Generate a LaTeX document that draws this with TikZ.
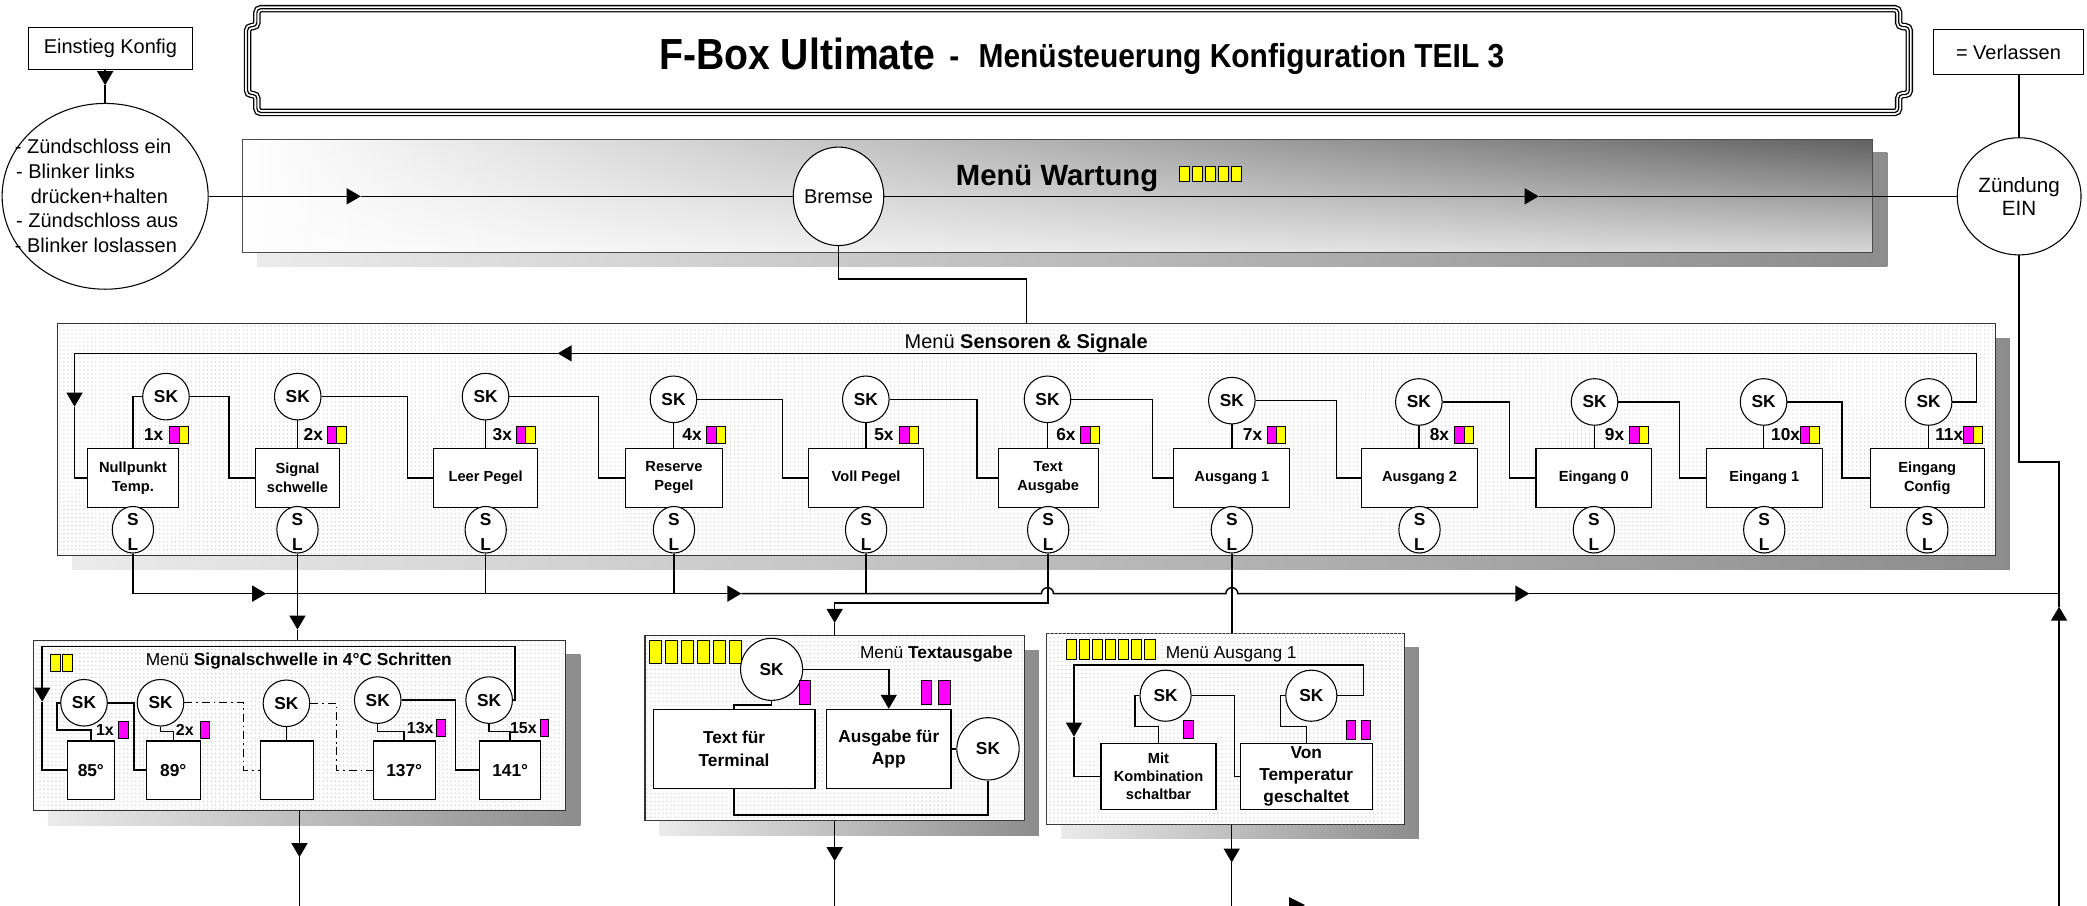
\documentclass[tikz,border=0pt]{standalone}
\usepackage{fontspec}
\setmainfont{Liberation Sans}
\newfontfamily\narrowf[FakeStretch=0.9]{Liberation Sans}
\usetikzlibrary{arrows.meta,shapes.geometric,patterns,fadings}
\newcommand\fsz[2]{\fontsize{#1}{#2}\selectfont}
\definecolor{mag}{RGB}{255,0,255}
\definecolor{yel}{RGB}{255,255,0}
\newcommand\sqr[5]{\filldraw[fill=#5,draw=black,line width=0.5pt] (#1,#2) rectangle ++(#3,#4);}
\begin{document}
\begin{tikzpicture}[x=1pt,y=-1pt,
  conn/.style={line width=1.1pt},
  arr/.style={-{Triangle[length=10.5pt,width=12pt]}},
  dashdot/.style={line width=0.9pt, dash pattern=on 6pt off 3pt on 1.2pt off 3pt},
  skc/.style={circle, draw, fill=white, line width=0.8pt, inner sep=0, minimum size=35pt, font=\bfseries\fsz{13}{15}},
  slc/.style={ellipse, draw, fill=white, line width=0.8pt, inner sep=0, minimum width=31pt, minimum height=35pt},
  slt/.style={inner sep=0, font=\bfseries\fsz{13}{15}},
  rowbox/.style={draw, fill=white, line width=0.8pt, inner sep=0, minimum height=44pt, align=center, font=\bfseries\fsz{11}{14.3}},
  valbox/.style={draw, fill=white, line width=0.8pt, inner sep=0, align=center, font=\bfseries\fsz{13}{16.8}},
  lab/.style={inner sep=0, anchor=west, font=\bfseries\fsz{13}{15}},
  plab/.style={inner sep=0, anchor=west, font=\bfseries\fsz{12}{14}},
  panel/.style={draw=black!80, line width=0.8pt, fill=white, postaction={pattern=dots, pattern color=black!20}, inner sep=0},
  shadowc/.style={left color=black!8, right color=black!45},
  plain/.style={inner sep=0},
]
\useasboundingbox (0,0) rectangle (1568,680);
\fill[white] (0,0) rectangle (1568,680);

% ---------- title frame ----------
\fill[white, rounded corners=3pt] (193,6.5) -- (1426.5,6.5) -- (1426.5,20) -- (1434.5,20) -- (1434.5,71) -- (1426.5,71) -- (1426.5,84.5) -- (193,84.5) -- (193,71) -- (186,71) -- (186,20) -- (193,20) -- cycle;
\foreach \w/\c in {5.6/black, 3.6/white, 0.9/black}
  \draw[line width=\w pt, \c, rounded corners=3pt] (193,6.5) -- (1426.5,6.5) -- (1426.5,20) -- (1434.5,20) -- (1434.5,71) -- (1426.5,71) -- (1426.5,84.5) -- (193,84.5) -- (193,71) -- (186,71) -- (186,20) -- (193,20) -- cycle;
\node[anchor=base west, inner sep=0, font=\narrowf\bfseries\fsz{32.7}{36}] (tt1) at (495,52) {F-Box Ultimate};
\node[anchor=base west, inner sep=0, font=\narrowf\bfseries\fsz{25}{29}] (tt2) at (713,51) {-};
\node[anchor=base west, inner sep=0, font=\narrowf\bfseries\fsz{25}{29}] (tt3) at (735,51) {Menüsteuerung Konfiguration TEIL 3};

% ---------- top left ----------
\node[draw, fill=white, line width=0.8pt, minimum width=123.5pt, minimum height=32pt, inner sep=0, font=\fsz{15}{18}] (einstieg) at (83,36.5) {Einstieg Konfig};
\node[ellipse, draw, fill=white, line width=0.8pt, minimum width=154.8pt, minimum height=139.6pt, inner sep=0] (start) at (79,147.5) {};
\node[anchor=base west, plain, font=\fsz{15}{18}] (st1) at (11,115.7) {- Zündschloss ein};
\node[anchor=base west, plain, font=\fsz{15}{18}] (st2) at (12,134.2) {- Blinker links};
\node[anchor=base west, plain, font=\fsz{15}{18}] (st3) at (23,152.7) {drücken+halten};
\node[anchor=base west, plain, font=\fsz{15}{18}] (st4) at (12,171.2) {- Zündschloss aus};
\node[anchor=base west, plain, font=\fsz{15}{18}] (st5) at (11,189.7) {- Blinker loslassen};
\coordinate (ea) at (79,64);
\draw[conn,arr] (einstieg.south -| ea) -- (ea);
\draw[conn] (ea) -- (start.north);

% ---------- top right ----------
\node[draw, fill=white, line width=0.8pt, minimum width=112pt, minimum height=34pt, inner sep=0, font=\fsz{15}{18}] (verl) at (1509,39) {= Verlassen};

% ---------- Menue Wartung ----------
\shade[shadowc] (193,114.5) rectangle (1418,200);
\shade[left color=white, right color=black!15] (182,104.5) rectangle (1407,190);
\shade[left color=white, right color=black!62, path fading=south] (182,104.5) rectangle (1407,190);
\node[draw=black!70, line width=0.8pt, minimum width=1225pt, minimum height=85.5pt, inner sep=0] (wart) at (794.5,147.25) {};
\node[anchor=base west, plain, font=\bfseries\fsz{22}{26}] (warttitle) at (718,139) {Menü Wartung};
\foreach \k in {0,...,4} { \sqr{885.8+\k*9.85}{125.2}{7.6}{11.3}{yel} }

\node[ellipse, draw, fill=white, line width=0.8pt, minimum width=68pt, minimum height=74pt, inner sep=0] (bremse) at (630,147.5) {};
\node[plain, font=\fsz{15}{18}] (bremset) at (630,147.5) {Bremse};
\node[ellipse, draw, fill=white, line width=0.8pt, minimum width=93pt, minimum height=88pt, inner sep=0, align=center, font=\fsz{15.5}{17.5}] (zund) at (1517,147.5) {Zündung\\EIN};

\coordinate (wa1) at (271,147.5);
\coordinate (wa2) at (1156,147.5);
\draw[conn,arr] (start.east) -- (wa1);
\draw[conn] (wa1) -- (bremse.west);
\draw[conn,arr] (bremse.east) -- (wa2);
\draw[conn] (wa2) -- (zund.west);
\draw[conn] (verl.south -| zund.north) -- (zund.north);

% ---------- Menue Sensoren & Signale ----------
\shade[shadowc] (54.4,254) rectangle (1510,428);
\node[panel, minimum width=1455.6pt, minimum height=174pt] (sens) at (771.2,330) {};
\node[plain, font=\fsz{15}{18}] (senstitle) at (771,258) {Menü \textbf{Sensoren \& Signale}};
\draw[conn] (bremse.south) -- (630,209.5) -| (sens.north);

\foreach \i/\sx/\sy/\bl/\br/\txt in {
  1/124.7/298/65.7/134/{Nullpunkt\\Temp.},
  2/223.7/298/192/255/{Signal\\schwelle},
  3/364.8/298/326/403.8/{Leer Pegel},
  4/506/300/469.7/543/{Reserve\\Pegel},
  5/650.5/300/607.6/693.8/{Voll Pegel},
  6/787/300/750/825/{Text\\Ausgabe},
  7/925.5/301/882/969/{Ausgang 1},
  8/1066/302/1023/1110/{Ausgang 2},
  9/1198/302/1154/1241/{Eingang 0},
  10/1325/302/1282/1369/{Eingang 1},
  11/1449/302/1405/1491/{Eingang\\Config}}
{
  \pgfmathsetmacro\bc{(\bl+\br)/2}
  \pgfmathsetmacro\bw{\br-\bl}
  \node[rowbox, minimum width=\bw pt] (bx\i) at (\bc,359) {\txt};
  \node[skc] (sk\i) at (\sx,\sy) {SK};
  \node[slc] (sl\i) at (\bc,398) {};
  \node[slt] (sls\i) at (\bc,390.5) {S};
  \node[slt] (sll\i) at (\bc,409) {L};
}
\draw[conn] (sk1.west) -| (bx1.north);
\foreach \i in {2,...,11} \draw[conn] (sk\i.south) -- (sk\i.south |- bx\i.north);
\foreach \i/\j/\lx in {1/2/172, 2/3/306.3, 3/4/449.5, 4/5/588, 5/6/734, 6/7/866, 7/8/1004, 8/9/1134, 9/10/1262, 10/11/1384}
  \draw[conn] (sk\i.east) -| (\lx,359) -- (bx\j.west);
\foreach \lt/\lx/\qx in {1x/108/127.5, 2x/228/246, 3x/370/388, 4x/512.5/531, 5x/656.7/676, 6x/793.4/811.9, 7x/933.6/952, 8x/1074/1092.8, 9x/1205.6/1224.5, 10x/1330.5/1352.7, 11x/1453.8/1475.3}
{
  \node[lab] (lab\lt) at (\lx,326.5) {\lt};
  \sqr{\qx}{320}{7}{13}{mag}
  \sqr{\qx+7}{320}{7}{13}{yel}
}
\coordinate (lp1) at (419,265.5);
\coordinate (lp2) at (56,305.5);
\draw[conn,arr] (sk11.east) -| (1485,265.5) -- (lp1);
\draw[conn,arr] (lp1) -| (lp2);
\draw[conn] (lp2) |- (bx1.west);

% ---------- bottom panels ----------
\shade[shadowc] (36,492) rectangle (436,620);
\node[panel, minimum width=400pt, minimum height=128pt] (pan1) at (225,545) {};
\shade[shadowc] (495.6,488.6) rectangle (780.6,627.6);
\node[panel, minimum width=285pt, minimum height=139pt] (pan2) at (627.1,547.1) {};
\shade[shadowc] (797.4,486.8) rectangle (1066,630.3);
\node[panel, minimum width=268.6pt, minimum height=143.5pt] (pan3) at (920.7,547.55) {};

% ---------- bus ----------
\coordinate (ba1) at (200,446);
\coordinate (ba2) at (557,446);
\coordinate (ba3) at (1149,446);
\coordinate (busend) at (1547,446);
\draw[conn,arr] (sl1.south) |- (ba1);
\draw[conn,arr] (ba1) -- (ba2);
\draw[conn,arr] (ba2) -- (782.5,446) arc[start angle=180, end angle=360, radius=4.5] -- (921,446) arc[start angle=180, end angle=360, radius=4.5] -- (ba3);
\draw[conn] (ba3) -- (busend);
\foreach \i in {3,4,5} \draw[conn] (sl\i.south) -- (sl\i.south |- ba1);
\coordinate (p1a) at (223.5,473);
\draw[conn,arr] (sl2.south) -- (p1a);
\draw[conn] (p1a) -- (p1a |- pan1.north);
\coordinate (p2a) at (627.1,468);
\draw[conn,arr] (sl6.south) |- (627.1,453) -- (p2a);
\draw[conn] (p2a) -- (pan2.north);
\draw[conn] (sl7.south) -- (sl7.south |- pan3.north);

% return line to Zuendung
\coordinate (zr1) at (1547,455.8);
\coordinate (zbot) at (1547,681);
\draw[conn,arr] (zbot) -- (zr1);
\draw[conn] (zr1) -- (1547,347) -| (zund.south);

% bottom exits
\coordinate (b1) at (225,644);
\coordinate (e1) at (225,681);
\draw[conn,arr] (pan1.south) -- (b1);
\draw[conn] (b1) -- (e1);
\coordinate (b2) at (627.1,647);
\coordinate (e2) at (627.1,681);
\draw[conn,arr] (pan2.south) -- (b2);
\draw[conn] (b2) -- (e2);
\coordinate (b3) at (925.4,648);
\coordinate (e3) at (925.4,681);
\draw[conn,arr] (pan3.south -| b3) -- (b3);
\draw[conn] (b3) -- (e3);
\fill (968.5,674) -- (980.5,680) -- (968.5,686) -- cycle;

% ---------- panel 1: Signalschwelle ----------
\sqr{38}{491.4}{7}{13.2}{yel}
\sqr{47}{491.4}{7}{13.2}{yel}
\node[plain, font=\fsz{13}{15}] (p1title) at (224.5,497) {Menü \textbf{Signalschwelle in 4°C Schritten}};
\node[skc] (pk1) at (63.1,528) {SK};
\node[skc] (pk2) at (120.6,528) {SK};
\node[skc] (pk3) at (215.2,528.4) {SK};
\node[skc] (pk4) at (283.8,526) {SK};
\node[skc] (pk5) at (367.5,526) {SK};
\node[valbox, minimum width=35.3pt, minimum height=43.8pt] (pb1) at (68.25,578.6) {85°};
\node[valbox, minimum width=40.4pt, minimum height=43.8pt] (pb2) at (130.2,578.6) {89°};
\node[valbox, minimum width=39.8pt, minimum height=43.8pt] (pb3) at (215.6,578.6) {};
\node[valbox, minimum width=46.4pt, minimum height=43.8pt] (pb4) at (303.7,578.6) {137°};
\node[valbox, minimum width=45.6pt, minimum height=43.8pt] (pb5) at (383.3,578.6) {141°};
\draw[conn] (pk1.west) -| (42.8,548.4) -| (pb1.north);
\draw[conn] (pk1.east) -| (100.6,578.6) -- (pb2.west);
\draw[conn] (pk2.south) -- (120.6,549.4) -| (pb2.north);
\draw[dashdot] (pk2.east) -| (183.2,578.6) -- (pb3.west);
\draw[conn] (pk3.south) -- (pk3.south |- pb3.north);
\draw[dashdot] (pk3.east) -| (252.7,578.6) -- (pb4.west);
\draw[conn] (pk4.south) -- (283.8,549.4) -| (pb4.north);
\draw[conn] (pk4.east) -| (342.4,578.6) -- (pb5.west);
\draw[conn] (pk5.south) -- (367.5,549.4) -| (pb5.north);
\coordinate (p1l) at (31.7,527.2);
\draw[conn,arr] (pk5.east) -- (386.9,526) -- (386.9,485.8) -| (p1l);
\draw[conn] (p1l) |- (pb1.west);
\node[plab] (pl1) at (72,548.4) {1x};
\sqr{88.7}{542.2}{8}{12.5}{mag}
\node[plab] (pl2) at (132,548.4) {2x};
\sqr{150.4}{542.2}{7.2}{12.5}{mag}
\node[plab] (pl3) at (305.5,546.8) {13x};
\sqr{328}{540.6}{6.5}{12.5}{mag}
\node[plab] (pl4) at (383,546.8) {15x};
\sqr{405.6}{540.6}{6.5}{12.5}{mag}

% ---------- panel 2: Textausgabe ----------
\foreach \k in {0,...,5} { \sqr{487.8+\k*12.1}{480.8}{8.8}{17.6}{yel} }
\node[plain, font=\fsz{13}{15}] (p2title) at (703.5,491.3) {Menü \textbf{Textausgabe}};
\node[skc, minimum size=46.6pt] (skt) at (579.7,502.9) {SK};
\node[valbox, minimum width=121.5pt, minimum height=59.4pt] (bt) at (551.55,562.6) {Text für\\Terminal};
\node[valbox, minimum width=93.5pt, minimum height=59.4pt] (bap) at (667.75,562.6) {Ausgabe für\\App};
\node[skc, minimum size=46.8pt] (skr) at (742.3,562.6) {SK};
\sqr{600.5}{511}{8.5}{18}{mag}
\sqr{691.9}{511}{8}{18}{mag}
\sqr{704.9}{511}{8.8}{18}{mag}
\draw[conn] (skt.south) -- (579.7,529.6) -| (bt.north);
\draw[conn,arr] (skt.east) -| (bap.north);
\draw[conn] (bap.east) -- (skr.west);
\draw[conn] (skr.south) -- (742.3,612.3) -| (bt.south);

% ---------- panel 3: Ausgang 1 ----------
\foreach \k in {0,...,6} { \sqr{800.9+\k*9.87}{480.1}{7.6}{15}{yel} }
\node[plain, font=\fsz{13}{15}] (p3title) at (925,491.3) {Menü Ausgang 1};
\node[skc, minimum size=38.4pt] (ka) at (875.7,522.7) {SK};
\node[skc, minimum size=38.4pt] (kb) at (985.2,522.7) {SK};
\node[valbox, minimum width=86.4pt, minimum height=49.6pt, font=\bfseries\fsz{11}{13.5}] (bk) at (870.4,583.2) {Mit\\Kombination\\schaltbar};
\node[valbox, minimum width=99.4pt, minimum height=49.6pt, font=\bfseries\fsz{13}{16.3}] (bv) at (981.4,583.2) {Von\\Temperatur\\geschaltet};
\sqr{889}{541}{7.4}{13.7}{mag}
\sqr{1011.7}{541}{6.6}{14.4}{mag}
\sqr{1023}{541}{6.8}{14.4}{mag}
\draw[conn] (ka.west) -| (852.7,545.9) -| (bk.north);
\draw[conn] (ka.east) -| (927.3,583.2) -- (bv.west);
\draw[conn] (kb.west) -| (962.1,545.9) -| (bv.north);
\coordinate (p3a) at (806.9,553.4);
\draw[conn,arr] (kb.east) -| (1024.3,499.6) -| (p3a);
\draw[conn] (p3a) |- (bk.west);
\end{tikzpicture}
\end{document}
